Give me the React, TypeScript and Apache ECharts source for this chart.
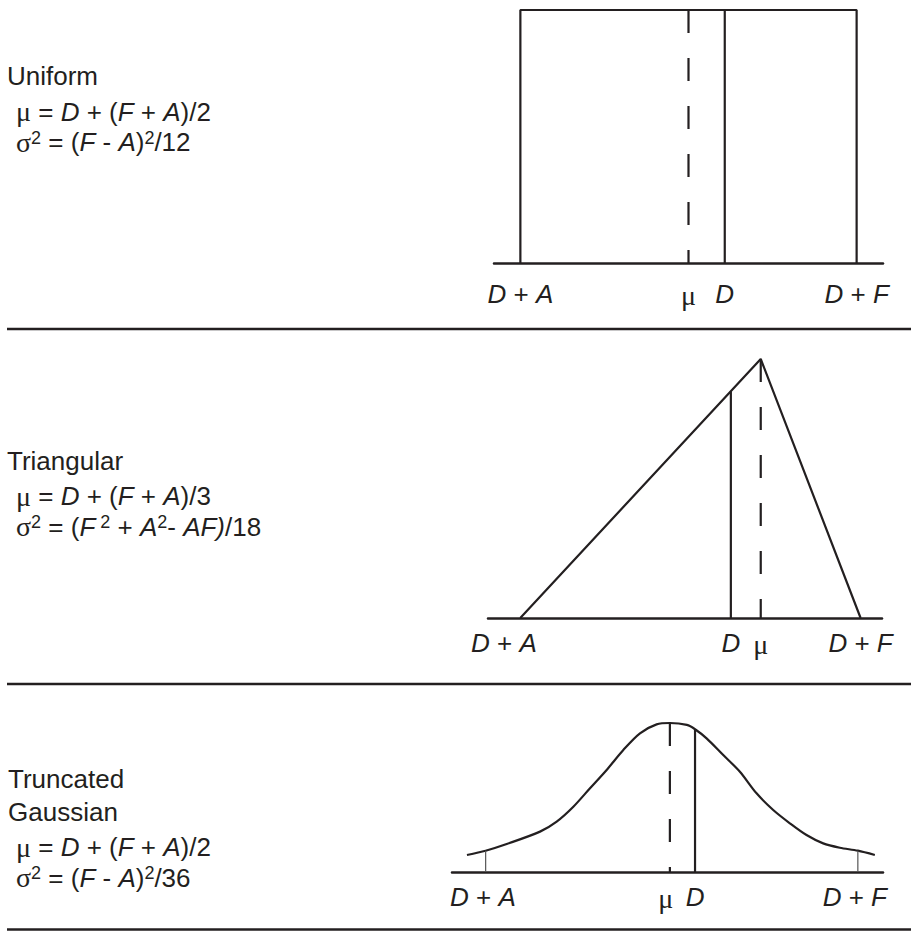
import React, { useEffect, useRef } from "react";
import * as echarts from "echarts";

const INK = "#231f20";
const SANS = "Liberation Sans, Arial, Helvetica, sans-serif";
const SERIF = "Liberation Serif, Times New Roman, serif";
const FS = 26;

// ---------- Uniform panel (x in units relative to D) ----------
const uniformA = -6.2;
const uniformD = 0;
const uniformF = 4;
const uniformMu = -1.1;
const uniformAxis = [-7, 4.8];
const uniformLabelValues = [-6.2, -1.1, 0, 4];
const uniformLabelTexts = ["{i|D} + {i|A}", "{g|μ}", "{i|D}", "{i|D} + {i|F}"];

// ---------- Triangular panel ----------
const triA = -6.2;
const triD = 0;
const triMu = 0.88;
const triF = 3.82;
const triAxis = [-7.15, 4.45];
const triLabelValues = [-6.68, 0, 0.88, 3.82];
const triLabelTexts = ["{i|D} + {i|A}", "{i|D}", "{g|μ}", "{i|D} + {i|F}"];

// ---------- Truncated Gaussian panel ----------
const gaussX = [-6.71, -6.16, -5.54, -4.56, -4.07, -3.58, -3.09, -2.6, -2.11, -1.62, -1.13, -0.74, -0.24, 0, 0.34, 0.83, 1.32, 1.81, 2.3, 2.79, 3.28, 3.77, 4.26, 4.79, 5.29];
const gaussY = [0.114, 0.143, 0.188, 0.271, 0.338, 0.438, 0.562, 0.685, 0.819, 0.931, 0.991, 1.0, 0.987, 0.958, 0.897, 0.785, 0.673, 0.528, 0.416, 0.327, 0.248, 0.192, 0.163, 0.143, 0.114];
const gaussA = -6.16;
const gaussD = 0;
const gaussF = 4.79;
const gaussMu = -0.74;
const gaussAxis = [-7.15, 5.53];
const gaussLabelValues = [-6.24, -0.86, 0, 4.7];
const gaussLabelTexts = ["{i|D} + {i|A}", "{g|μ}", "{i|D}", "{i|D} + {i|F}"];

// ---------- Left-hand texts ----------
const uniformText = ["Uniform", "{g|μ} = {i|D} + ({i|F} + {i|A})/2", "{g|σ}{s|2} = ({i|F} - {i|A}){s|2}/12"];
const triText = ["Triangular", "{g|μ} = {i|D} + ({i|F} + {i|A})/3", "{g|σ}{s|2} = ({i|F}{s| 2} + {i|A}{s|2}- {i|AF)}/18"];
const gaussText = ["Truncated", "Gaussian", "{g|μ} = {i|D} + ({i|F} + {i|A})/2", "{g|σ}{s|2} = ({i|F} - {i|A}){s|2}/36"];

const rich = {
  i: { fontStyle: "italic", fontSize: FS, fontFamily: SANS, fill: INK, color: INK },
  g: { fontSize: 28, fontFamily: SERIF, fill: INK, color: INK },
  s: { fontSize: 18, fontFamily: SANS, fill: INK, color: INK, padding: [0, 0, 9, 0] },
};

function interp(xs: number[], ys: number[], x: number) {
  for (let k = 0; k < xs.length - 1; k++) {
    if (x >= xs[k] && x <= xs[k + 1]) {
      const t = (x - xs[k]) / (xs[k + 1] - xs[k]);
      return ys[k] + t * (ys[k + 1] - ys[k]);
    }
  }
  return 0;
}

function pick(values: number[], texts: string[]) {
  return (v: number) => {
    let best = 0;
    for (let k = 1; k < values.length; k++) {
      if (Math.abs(values[k] - v) < Math.abs(values[best] - v)) best = k;
    }
    return texts[best];
  };
}

export default function App() {
  const ref = useRef<HTMLDivElement>(null);
  useEffect(() => {
    if (!ref.current) return;
    const chart = echarts.init(ref.current, null, { renderer: "svg" });

    const grids = [
      { left: 494, top: 10, width: 389, height: 253 },
      { left: 488, top: 359, width: 394, height: 259 },
      { left: 452, top: 723, width: 431, height: 149 },
    ];
    const axes = [uniformAxis, triAxis, gaussAxis];
    const labelVals = [uniformLabelValues, triLabelValues, gaussLabelValues];
    const labelTxts = [uniformLabelTexts, triLabelTexts, gaussLabelTexts];
    const margins = [18, 12, 12];

    const xAxis = axes.map((a, k) => ({
      type: "value",
      gridIndex: k,
      min: a[0],
      max: a[1],
      splitLine: { show: false },
      axisTick: { show: false },
      axisLine: { show: true, onZero: false, lineStyle: { color: INK, width: 2.5 } },
      axisLabel: {
        show: true,
        customValues: labelVals[k],
        formatter: pick(labelVals[k], labelTxts[k]),
        margin: margins[k],
        fontSize: FS,
        fontFamily: SANS,
        color: INK,
        rich,
      },
    }));
    const yAxis = axes.map((_, k) => ({
      type: "value",
      gridIndex: k,
      min: 0,
      max: 1,
      show: false,
    }));

    const solid = { color: INK, width: 2.2, type: "solid" };
    const dashed = { color: INK, width: 2.2, type: [23, 25] };
    const thin = { color: "#555", width: 1.2, type: "solid" };
    const line = (k: number, data: number[][], ls: any, smooth: any = false) => ({
      type: "line",
      xAxisIndex: k,
      yAxisIndex: k,
      data,
      symbol: "none",
      showSymbol: false,
      smooth,
      clip: false,
      silent: true,
      lineStyle: ls,
    });

    const triDHeight = (triD - triA) / (triMu - triA);
    const gaussDHeight = interp(gaussX, gaussY, gaussD);
    const gaussAHeight = interp(gaussX, gaussY, gaussA);
    const gaussFHeight = interp(gaussX, gaussY, gaussF);

    const series = [
      line(0, [[uniformA, 0], [uniformA, 1], [uniformF, 1], [uniformF, 0]], solid),
      line(0, [[uniformD, 0], [uniformD, 1]], solid),
      line(0, [[uniformMu, 1], [uniformMu, 0]], dashed),
      line(1, [[triA, 0], [triMu, 1], [triF, 0]], solid),
      line(1, [[triD, 0], [triD, triDHeight]], solid),
      line(1, [[triMu, 1], [triMu, 0]], dashed),
      line(2, gaussX.map((x, k) => [x, gaussY[k]]), solid, 0.3),
      line(2, [[gaussD, 0], [gaussD, gaussDHeight]], solid),
      line(2, [[gaussMu, 1], [gaussMu, 0]], dashed),
      line(2, [[gaussA, 0], [gaussA, gaussAHeight]], thin),
      line(2, [[gaussF, 0], [gaussF, gaussFHeight]], thin),
    ];

    const textEl = (t: string, x: number, y: number) => ({
      type: "text",
      x,
      y,
      silent: true,
      style: {
        text: t,
        fill: INK,
        fontSize: FS,
        fontFamily: SANS,
        lineHeight: 30,
        verticalAlign: "middle",
        align: "left",
        rich,
      },
    });
    const textBlock = (lines: string[], ys: number[], xs: number[]) =>
      lines.map((t, k) => textEl(t, xs[k], ys[k]));

    const sep = (y: number) => ({
      type: "line",
      silent: true,
      shape: { x1: 7, y1: y, x2: 911, y2: y },
      style: { stroke: INK, lineWidth: 2.5 },
    });

    const graphic = [
      ...textBlock(uniformText, [76, 111.5, 142], [7, 16, 16]),
      ...textBlock(triText, [460.5, 496, 526.5], [7, 16, 16]),
      ...textBlock(gaussText, [778.5, 811.5, 847, 877.5], [8, 8, 16, 16]),
      sep(329),
      sep(684),
      sep(929.5),
    ];

    chart.setOption({
      animation: false,
      backgroundColor: "#ffffff",
      grid: grids,
      xAxis,
      yAxis,
      series,
      graphic,
    });
    return () => chart.dispose();
  }, []);
  return (
    <div
      ref={ref}
      style={{ position: "fixed", left: 0, top: 0, width: 911, height: 931, background: "#fff" }}
    />
  );
}
